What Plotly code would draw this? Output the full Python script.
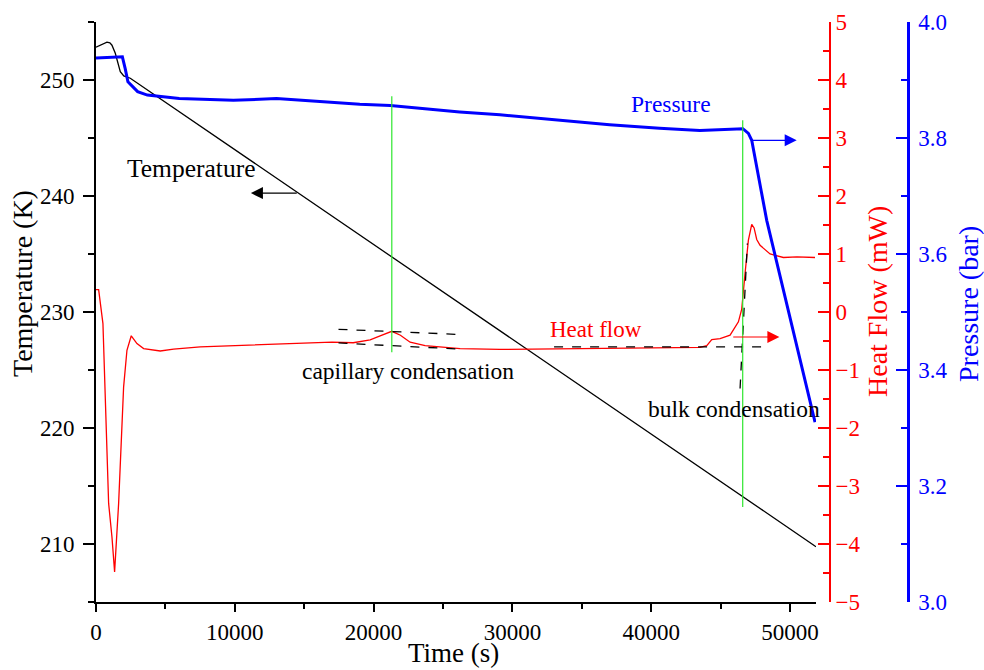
import plotly.graph_objects as go

# ---------------- data ----------------
time_T = [0, 400, 790, 1000, 1150, 1390, 1600, 1750, 2000, 2470, 51870]
temp_K = [252.83, 253.05, 253.26, 253.2, 253.0, 252.3, 251.4, 250.72, 250.35, 250.15, 209.77]

time_HF = [0, 190, 500, 670, 910, 1150, 1340, 1630, 1990, 2230, 2540, 2950, 3430, 4630,
           5590, 7510, 14710, 17000, 18530, 19750, 20470, 21310, 21930, 22630, 23710,
           26230, 29110, 36310, 43520, 44000, 44360, 44960, 45680, 46280, 46520, 46760,
           47000, 47240, 47410, 47600, 47840, 48560, 49520, 50500, 51800]
heat_mW = [0.386, 0.386, -0.2, -1.57, -3.3, -3.88, -4.48, -3.3, -1.29, -0.66, -0.41, -0.545,
           -0.63, -0.672, -0.64, -0.6, -0.54, -0.52, -0.53, -0.48, -0.41, -0.333, -0.4, -0.52,
           -0.58, -0.63, -0.645, -0.63, -0.61, -0.58, -0.476, -0.46, -0.40, -0.17, 0.05, 0.67,
           1.24, 1.51, 1.45, 1.25, 1.15, 1.0, 0.94, 0.95, 0.94]

time_P = [0, 1900, 2100, 2300, 3000, 3700, 6000, 9900, 13000, 16900, 19000, 21200, 26200,
          29100, 33000, 37000, 40600, 43500, 46600, 47000, 47240, 48320, 51800]
pres_bar = [3.938, 3.940, 3.920, 3.897, 3.880, 3.874, 3.868, 3.865, 3.868, 3.862, 3.858,
            3.856, 3.845, 3.840, 3.832, 3.823, 3.817, 3.813, 3.816, 3.808, 3.796, 3.658, 3.310]

# onset markers (green vertical lines), in pressure-axis units
marker_times = [21310, 46590]
marker_bottom = [3.4305, 3.1638]
marker_top = [3.872, 3.8305]

# tangent constructions (dashed), heat-flow units
tangent_t = [[17470, 26470], [17470, 26470], [33000, 48080], [46400, 46925]]
tangent_hf = [[-0.298, -0.390], [-0.534, -0.643], [-0.603, -0.603], [-1.32, 1.18]]

# axis ranges / ticks
x_range = [0, 51870]
T_range = [205, 255]
HF_range = [-5, 5]
P_range = [3.0, 4.0]

FONT = "Liberation Serif, Times New Roman, serif"
GREEN = "#2ee62e"

fig = go.Figure()

fig.add_trace(go.Scatter(x=time_T, y=temp_K, mode="lines", yaxis="y",
                         line=dict(color="black", width=1.3), name="Temperature"))
fig.add_trace(go.Scatter(x=time_HF, y=heat_mW, mode="lines", yaxis="y2",
                         line=dict(color="red", width=1.3), name="Heat flow"))
for tt, hh in zip(tangent_t, tangent_hf):
    fig.add_trace(go.Scatter(x=tt, y=hh, mode="lines", yaxis="y2",
                             line=dict(color="black", width=1.3, dash="dash"),
                             showlegend=False))
fig.add_trace(go.Scatter(x=time_P, y=pres_bar, mode="lines", yaxis="y3",
                         line=dict(color="blue", width=3), name="Pressure"))
for mt, mb, mtop in zip(marker_times, marker_bottom, marker_top):
    fig.add_trace(go.Scatter(x=[mt, mt], y=[mb, mtop], mode="lines", yaxis="y3",
                             line=dict(color=GREEN, width=1.2), showlegend=False))

W, H = 984, 670
ml, mr, mt_, mb_ = 96, 76, 22, 68
pw = W - ml - mr
ph = H - mt_ - mb_
x_dom_end = (816 - ml) / pw
red_pos = (830 - ml) / pw

tickfont_black = dict(family=FONT, size=23, color="black")

fig.update_layout(
    width=W, height=H,
    margin=dict(l=ml, r=mr, t=mt_, b=mb_, autoexpand=False),
    paper_bgcolor="white", plot_bgcolor="white",
    showlegend=False,
    font=dict(family=FONT, size=23, color="black"),
    xaxis=dict(domain=[0, x_dom_end], range=x_range, showgrid=False, zeroline=False,
               showline=True, linecolor="black", linewidth=2,
               ticks="outside", ticklen=8, tickwidth=2, tickcolor="black",
               dtick=10000, tick0=0, tickformat="d", tickfont=tickfont_black,
               minor=dict(dtick=5000, ticks="outside", ticklen=5, tickwidth=2, tickcolor="black"),
               automargin=False),
    yaxis=dict(range=T_range, showgrid=False, zeroline=False,
               showline=True, linecolor="black", linewidth=2,
               ticks="outside", ticklen=11, tickwidth=2, tickcolor="black",
               dtick=10, tick0=210, tickfont=tickfont_black, ticklabelstandoff=4,
               minor=dict(dtick=5, tick0=205, ticks="outside", ticklen=6, tickwidth=2, tickcolor="black"),
               automargin=False),
    yaxis2=dict(range=HF_range, overlaying="y", side="right", anchor="free", position=red_pos,
                showgrid=False, zeroline=False,
                showline=True, linecolor="red", linewidth=2,
                ticks="inside", ticklen=11, tickwidth=2, tickcolor="red",
                dtick=1, tick0=0, tickfont=dict(family=FONT, size=23, color="red"),
                minor=dict(dtick=0.5, ticks="inside", ticklen=6, tickwidth=2, tickcolor="red"),
                automargin=False),
    yaxis3=dict(range=P_range, overlaying="y", side="right", anchor="free", position=1.0,
                showgrid=False, zeroline=False,
                showline=True, linecolor="blue", linewidth=2.5,
                ticks="inside", ticklen=11, tickwidth=2, tickcolor="blue",
                dtick=0.2, tick0=3.0, tickformat=".1f", ticklabelstandoff=4,
                tickfont=dict(family=FONT, size=23, color="blue"),
                minor=dict(dtick=0.1, ticks="inside", ticklen=6, tickwidth=2, tickcolor="blue"),
                automargin=False),
)

ann = []
# axis titles
ann.append(dict(text="Time (s)", xref="paper", yref="paper",
                x=(453 - ml) / pw, y=(602 - 670) / ph, showarrow=False,
                xanchor="center", yanchor="bottom", font=dict(family=FONT, size=27, color="black")))
ann.append(dict(text="Temperature (K)", xref="paper", yref="paper",
                x=(22 - ml) / pw, y=(602 - 284) / ph, textangle=-90, showarrow=False,
                xanchor="center", yanchor="middle", font=dict(family=FONT, size=28, color="black")))
ann.append(dict(text="Heat Flow (mW)", xref="paper", yref="paper",
                x=(877 - ml) / pw, y=(602 - 302) / ph, textangle=-90, showarrow=False,
                xanchor="center", yanchor="middle", font=dict(family=FONT, size=28, color="red")))
ann.append(dict(text="Pressure (bar)", xref="paper", yref="paper",
                x=(968 - ml) / pw, y=(602 - 304) / ph, textangle=-90, showarrow=False,
                xanchor="center", yanchor="middle", font=dict(family=FONT, size=28, color="blue")))

# labels
ann.append(dict(text="Temperature", x=6860, y=242.39, xref="x", yref="y", showarrow=False,
                font=dict(family=FONT, size=25.5, color="black")))
ann.append(dict(text="Pressure", x=41430, y=3.858, xref="x", yref="y3", showarrow=False,
                font=dict(family=FONT, size=23.5, color="blue")))
ann.append(dict(text="Heat flow", x=36030, y=-0.298, xref="x", yref="y2", showarrow=False,
                font=dict(family=FONT, size=23, color="red")))
ann.append(dict(text="capillary condensation", x=22500, y=-1.023, xref="x", yref="y2",
                showarrow=False, font=dict(family=FONT, size=23.5, color="black")))
ann.append(dict(text="bulk condensation", x=45930, y=-1.68, xref="x", yref="y2",
                showarrow=False, font=dict(family=FONT, size=23.5, color="black")))

# arrows
ann.append(dict(text="", x=11160, y=240.25, ax=14570, ay=240.25, xref="x", yref="y",
                axref="x", ayref="y", showarrow=True, arrowhead=2, arrowsize=2,
                arrowwidth=1.2, arrowcolor="black"))
ann.append(dict(text="", x=50480, y=3.796, ax=47100, ay=3.796, xref="x", yref="y3",
                axref="x", ayref="y3", showarrow=True, arrowhead=2, arrowsize=2,
                arrowwidth=1.2, arrowcolor="blue"))
ann.append(dict(text="", x=49230, y=-0.431, ax=45800, ay=-0.431, xref="x", yref="y2",
                axref="x", ayref="y2", showarrow=True, arrowhead=2, arrowsize=2,
                arrowwidth=1.2, arrowcolor="red"))

fig.update_layout(annotations=ann)

fig.write_html("out.html")
